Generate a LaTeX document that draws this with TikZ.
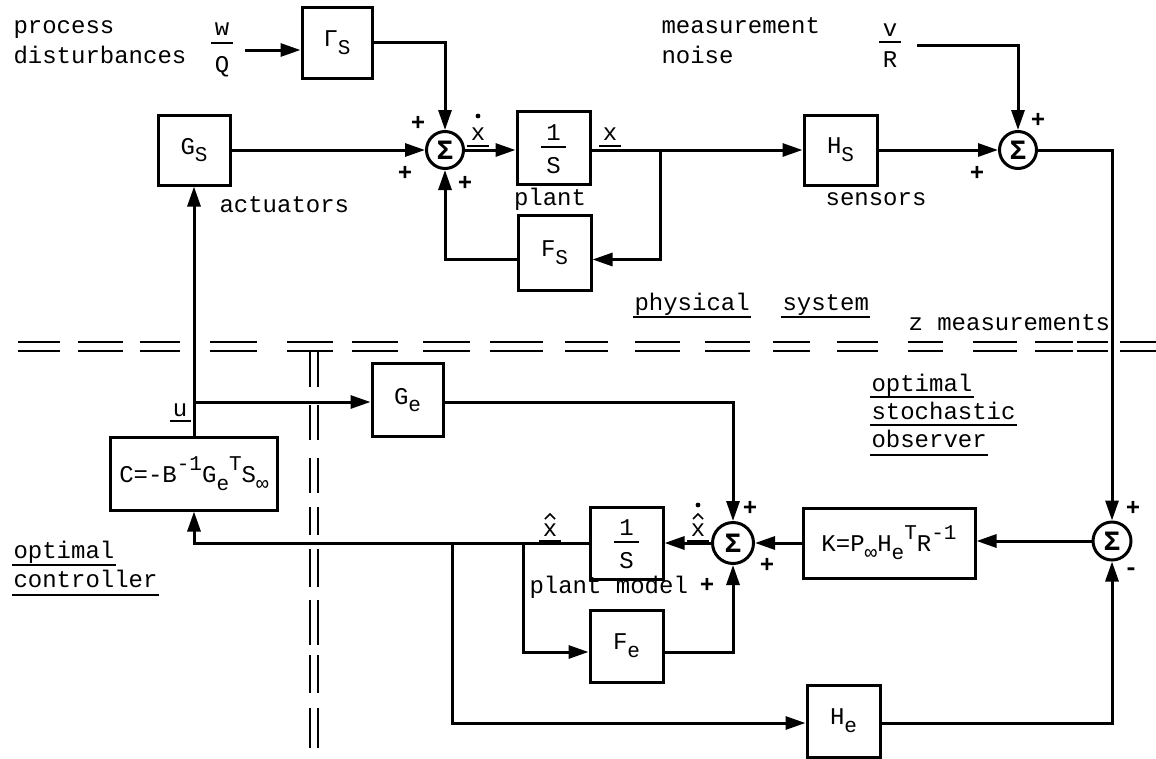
\documentclass[tikz,border=0pt]{standalone}
\usepackage{fontspec}
\setmainfont{Liberation Mono}
\usetikzlibrary{arrows.meta,calc}
\newcommand\dnx[1]{\raisebox{-0.32em}{\fontsize{21}{24}\selectfont #1}}
\newcommand\upx[1]{\raisebox{0.5em}{\fontsize{21}{24}\selectfont #1}}
\begin{document}
\begin{tikzpicture}[x=1pt,y=-1pt,
  line width=3pt,
  every node/.style={font=\fontsize{24}{28}\selectfont, inner sep=0pt},
  blk/.style={draw, line width=3pt, minimum width=#1},
  blk/.default=72pt,
  sumn/.style={draw, circle, line width=3pt, minimum size=#1, font=\fontsize{28}{28}\selectfont\bfseries},
  sumn/.default=37pt,
  arr/.style={-{Triangle[length=20pt,width=13pt]}},
  txt/.style={anchor=base west},
  plus/.style={font=\fontsize{24}{28}\selectfont\bfseries},
  ul/.style={line width=2pt},
  dd/.style={line width=2.8pt}
]
\useasboundingbox (0,0) rectangle (1156,758);

% ---------- blocks ----------
\node[blk=70pt, minimum height=71pt] (Gam) at (337,42.5) {Γ\dnx{S}};
\node[blk=72pt, minimum height=70pt] (Gs)  at (194,150) {G\dnx{S}};
\node[blk=73pt, minimum height=73pt] (I1)  at (553.5,148) {};
\node[blk=73pt, minimum height=75pt] (Fs)  at (554.5,252.5) {F\dnx{S}};
\node[blk=73pt, minimum height=70pt] (Hs)  at (840.5,150) {H\dnx{S}};
\node[blk=71pt, minimum height=73pt] (Ge)  at (407.5,400) {G\dnx{e}};
\node[blk=167pt, minimum height=73pt] (C)  at (194,473.5) {C=-B\upx{-1}G\dnx{e}\upx{T}S\dnx{∞}};
\node[blk=73pt, minimum height=72pt] (I2)  at (626.5,543) {};
\node[blk=73pt, minimum height=72pt] (Fe)  at (626.5,646) {F\dnx{e}};
\node[blk=172pt, minimum height=70pt] (K)  at (889,543) {K=P\dnx{∞}H\dnx{e}\upx{T}R\upx{-1}};
\node[blk=73pt, minimum height=72pt] (He)  at (843.5,721) {H\dnx{e}};

% fractions 1/S
\node[anchor=base] (I1n) at (553.5,140) {1};
\node[anchor=base] (I1d) at (553.5,173) {S};
\draw[line width=2pt] (541,147) -- (566,147);
\node[anchor=base] (I2n) at (626.5,535) {1};
\node[anchor=base] (I2d) at (626.5,568) {S};
\draw[line width=2pt] (614,542) -- (639,542);

% ---------- summing junctions ----------
\node[sumn] (S1) at (445,150) {Σ};
\node[sumn] (S2) at (1018,150) {Σ};
\node[sumn=38pt] (S3) at (1112,541) {Σ};
\node[sumn=41pt] (S4) at (733,543) {Σ};

% ---------- coordinates ----------
\coordinate (win) at (245,50);
\coordinate (vin) at (917,45);
\coordinate (br1) at (660,150);
\coordinate (uj) at (194,402);
\coordinate (br2) at (452,543);
\coordinate (br3) at (523,543);

% ---------- connectors ----------
\draw[arr] (win) -- (win -| Gam.west);
\draw[arr] (Gam.east) -| (S1.north);
\draw[arr] (Gs.east) -- (S1.west);
\draw[arr] (S1.east) -- (S1.east -| I1.west);
\draw[arr] (I1.east |- S1.east) -- (Hs.west);
\draw[arr] (br1) |- ($(Fs.east)+(0,7)$);
\draw[arr] ($(Fs.west)+(0,7)$) -| (S1.south);
\draw[arr] (Hs.east) -- (S2.west);
\draw[arr] (vin) -| (S2.north);
\draw[arr] (S2.east) -| (S3.north);
\draw[arr] (S3.west) -- (S3.west -| K.east);
\draw[arr] (K.west) -- (S4.east);
\draw[arr] (S4.west) -- (I2.east);
\draw[arr] (I2.west) -| (C.south);
\draw[arr] (br3) |- ($(Fe.west)+(0,6)$);
\draw[arr] ($(Fe.east)+(0,6)$) -| (S4.south);
\draw[arr] (br2) |- ($(He.west)+(0,2)$);
\draw[arr] ($(He.east)+(0,2)$) -| (S3.south);
\draw[arr] (C.north) -- (Gs.south);
\draw[arr] (uj) -- (uj -| Ge.west);
\draw[arr] (Ge.east |- uj) -| (S4.north);

% ---------- signs ----------
\node[plus] (p1) at (418,123) {+};
\node[plus] (p2) at (405,173) {+};
\node[plus] (p3) at (465,183) {+};
\node[plus] (p4) at (1038,120) {+};
\node[plus] (p5) at (977,173) {+};
\node[plus] (p6) at (1133,508) {+};
\node[plus] (p7) at (1131,572) {-};
\node[plus] (p8) at (750,508) {+};
\node[plus] (p9) at (767,565) {+};
\node[plus] (p10) at (707,585) {+};

% ---------- signal labels ----------
\node[anchor=base] (xd) at (478,140) {x};
\fill (478,116) circle (2.4pt);
\draw[ul] (467,146) -- (489,146);
\node[anchor=base] (xs) at (610,140) {x};
\draw[ul] (599,146) -- (621,146);
\node[anchor=base] (xh) at (550,536) {x};
\draw[line width=1.6pt] (545,519) -- (550,514) -- (555,519);
\draw[ul] (539,541) -- (561,541);
\node[anchor=base] (xhd) at (698,536) {x};
\draw[line width=1.6pt] (693,519) -- (698,514) -- (703,519);
\fill (698,505) circle (2.4pt);
\draw[ul] (687,541) -- (709,541);
\node[anchor=base] (ul) at (180,416) {u};
\draw[ul] (170,421) -- (191,421);

\node[anchor=base] (w) at (222,35) {w};
\draw[ul] (211,43) -- (233,43);
\node[anchor=base] (Q) at (222,72) {Q};
\node[anchor=base] (v) at (890,36) {v};
\draw[ul] (879,42) -- (901,42);
\node[anchor=base] (R) at (890,67) {R};

% ---------- text ----------
\node[txt] (t1) at (12,33) {process};
\node[txt] (t2) at (12,63) {disturbances};
\node[txt] (t3) at (660,33) {measurement};
\node[txt] (t4) at (660,63) {noise};
\node[anchor=base] (t5) at (550,205) {plant};
\node[anchor=base] (t6) at (876,205) {sensors};
\node[txt] (t7) at (218,212) {actuators};
\node[txt] (t8) at (633,310) {physical};
\draw[ul] (633,317) -- (t8.base east |- 0,317);
\node[txt] (t9) at (781,310) {system};
\draw[ul] (781,317) -- (t9.base east |- 0,317);
\node[txt] (t10) at (907,330) {z measurements};
\node[txt] (t11) at (870,391) {optimal};
\draw[ul] (870,397) -- (t11.base east |- 0,397);
\node[txt] (t12) at (870,419) {stochastic};
\draw[ul] (870,425) -- (t12.base east |- 0,425);
\node[txt] (t13) at (870,447) {observer};
\draw[ul] (870,455) -- (t13.base east |- 0,455);
\node[txt] (t14) at (528,593) {plant model};
\node[txt] (t15) at (12,558) {optimal};
\draw[ul] (12,565) -- (t15.base east |- 0,565);
\node[txt] (t16) at (12,587) {controller};
\draw[ul] (12,595) -- (t16.base east |- 0,595);

% ---------- system boundaries (double dashed) ----------
\foreach \a/\b in {18/60, 78/123, 140/180, 210/257, 287/333, 352/398, 423/470, 490/543, 565/608, 635/680, 705/750, 773/810, 837/878, 908/943, 973/1017, 1035/1073, 1077/1108, 1120/1156}{
  \draw[dd] (\a,342) -- (\b,342);
  \draw[dd] (\a,351) -- (\b,351);
}
\foreach \a/\b in {351/387, 405/440, 458/493, 507/535, 549/587, 600/645, 655/693, 708/748}{
  \draw[dd] (310,\a) -- (310,\b);
  \draw[dd] (318,\a) -- (318,\b);
}
\end{tikzpicture}
\end{document}
